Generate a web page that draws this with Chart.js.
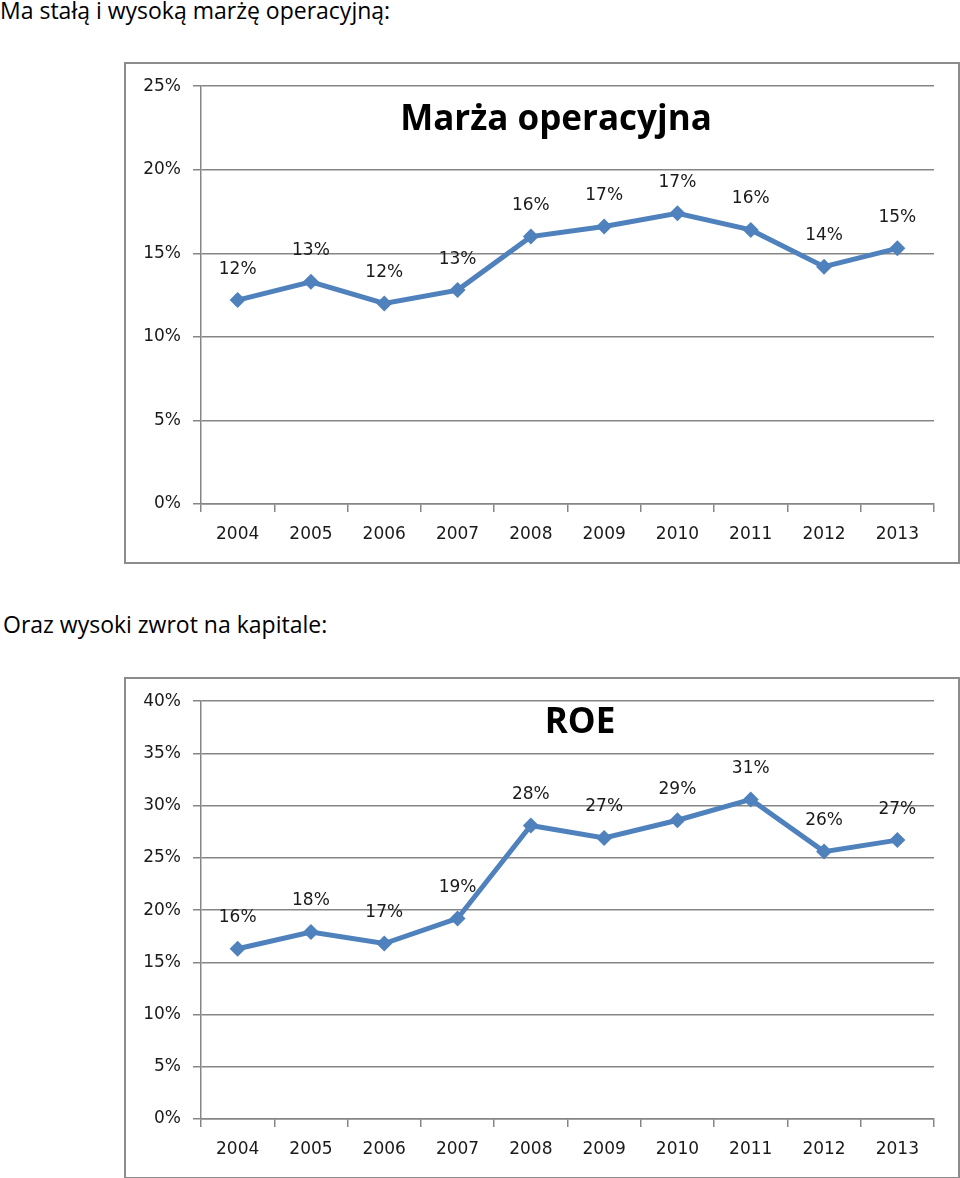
<!DOCTYPE html>
<html>
<head>
<meta charset="utf-8">
<script src="https://cdn.jsdelivr.net/npm/chart.js@4.4.0/dist/chart.umd.min.js"></script>
<style>
  body { margin: 0; background: #fff; width: 960px; height: 1178px; position: relative; overflow: hidden; }
  .heading { position: absolute; left: 0; font-family: "Open Sans", sans-serif; font-size: 23px; color: #000; white-space: nowrap; }
  .box { position: absolute; left: 124px; width: 832px; height: 498px; border: 2px solid #8c8c8c; background: #fff; }
  .box canvas { display: block; }
</style>
</head>
<body>
<div class="heading" style="top:-6px;">Ma stałą i wysoką marżę operacyjną:</div>
<div class="box" style="top:62px;"><canvas id="marginChart" width="832" height="498"></canvas></div>
<div class="heading" style="top:608px;left:3px;">Oraz wysoki zwrot na kapitale:</div>
<div class="box" style="top:677px;"><canvas id="roeChart" width="832" height="498"></canvas></div>
<script>
// lata
const years = ["2004", "2005", "2006", "2007", "2008", "2009", "2010", "2011", "2012", "2013"];
// marza operacyjna w %
const marginValues = [12.2, 13.3, 12.0, 12.8, 16.0, 16.6, 17.4, 16.4, 14.2, 15.3];
// ROE w %
const roeValues = [16.3, 17.9, 16.8, 19.2, 28.1, 26.9, 28.6, 30.6, 25.6, 26.7];
const marginTicks = [0, 5, 10, 15, 20, 25];
const roeTicks = [0, 5, 10, 15, 20, 25, 30, 35, 40];

const lineBlue = "#4f81bd";
const gridGray = "#868686";
const tickFont = { family: "'DejaVu Sans', Verdana, sans-serif", size: 17 };

// etykiety nad punktami
const pointLabels = {
  id: "pointLabels",
  afterDatasetsDraw(chart) {
    const ctx = chart.ctx;
    const meta = chart.getDatasetMeta(0);
    ctx.save();
    ctx.font = "17px 'DejaVu Sans', Verdana, sans-serif";
    ctx.fillStyle = "#1a1a1a";
    ctx.textAlign = "center";
    ctx.textBaseline = "middle";
    meta.data.forEach((pt, i) => {
      const v = chart.data.datasets[0].data[i];
      ctx.fillText(Math.round(v) + "%", pt.x, pt.y - 31);
    });
    ctx.restore();
  },
};

// tytul wewnatrz obszaru wykresu
const innerTitle = {
  id: "innerTitle",
  afterDraw(chart, args, opts) {
    const ctx = chart.ctx;
    const area = chart.chartArea;
    ctx.save();
    ctx.font = "bold 35px 'Open Sans', sans-serif";
    ctx.fillStyle = "#000";
    ctx.textAlign = "center";
    ctx.textBaseline = "middle";
    ctx.fillText(opts.text, opts.x, area.top + opts.dy);
    ctx.restore();
  },
};

function makeChart(id, values, ticks, title, titleX, titleDy) {
  return new Chart(document.getElementById(id), {
    type: "line",
    data: {
      labels: years,
      datasets: [
        {
          data: values,
          borderColor: lineBlue,
          backgroundColor: lineBlue,
          borderWidth: 5,
          pointStyle: "rectRot",
          pointRadius: 8,
          pointBorderWidth: 0,
          tension: 0,
        },
      ],
    },
    options: {
      responsive: false,
      animation: false,
      events: [],
      layout: { padding: { left: 0, right: 24, top: 22, bottom: 0 } },
      plugins: {
        legend: { display: false },
        tooltip: { enabled: false },
        innerTitle: { text: title, x: titleX, dy: titleDy },
      },
      scales: {
        x: {
          offset: true,
          grid: { display: true, offset: true, drawOnChartArea: false, color: gridGray, tickLength: 8, lineWidth: 1.5 },
          border: { color: gridGray, width: 1.5 },
          ticks: { font: tickFont, color: "#1a1a1a", padding: 12, maxRotation: 0 },
          afterFit(scale) { scale.height = 58; },
        },
        y: {
          min: ticks[0],
          max: ticks[ticks.length - 1],
          afterBuildTicks(scale) { scale.ticks = ticks.map((v) => ({ value: v })); },
          grid: { color: gridGray, tickLength: 8, lineWidth: 1.5 },
          border: { color: gridGray, width: 1.5 },
          ticks: { font: tickFont, color: "#1a1a1a", padding: 12, callback: (v) => v + "%" },
          afterFit(scale) { scale.width = 75; },
        },
      },
    },
    plugins: [pointLabels, innerTitle],
  });
}

makeChart("marginChart", marginValues, marginTicks, "Marża operacyjna", 430, 34);
makeChart("roeChart", roeValues, roeTicks, "ROE", 454, 22);
</script>
</body>
</html>
